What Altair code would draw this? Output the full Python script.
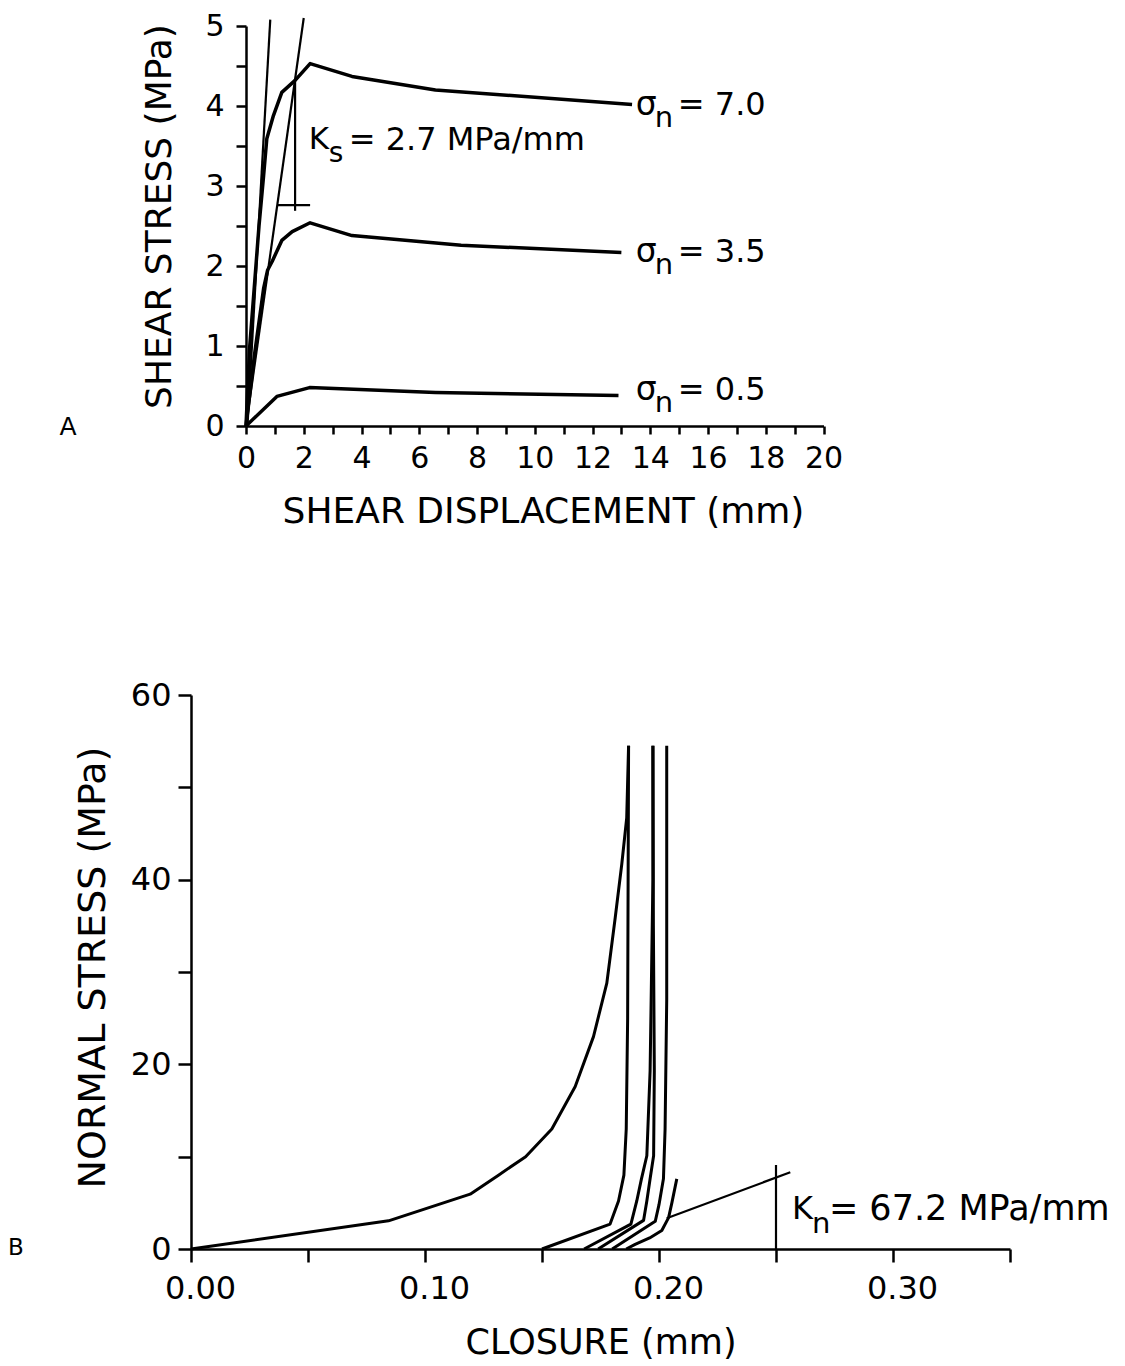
import altair as alt
import pandas as pd

# ---------------- Panel A : shear stress vs shear displacement ----------------
a70_x = [0, 0.12, 0.45, 0.61, 0.72, 0.95, 1.24, 1.70, 2.22, 3.67, 6.56, 13.37]
a70_y = [0, 0.95, 2.5, 3.13, 3.59, 3.88, 4.17, 4.32, 4.53, 4.37, 4.20, 4.02]
a35_x = [0, 0.29, 0.61, 0.75, 0.91, 1.24, 1.60, 2.22, 3.67, 7.45, 13.0]
a35_y = [0, 0.88, 1.72, 1.95, 2.06, 2.32, 2.43, 2.54, 2.38, 2.26, 2.17]
a05_x = [0, 1.07, 2.20, 6.56, 12.9]
a05_y = [0, 0.37, 0.48, 0.42, 0.38]

ks_steep_x = [0.05, 0.84]
ks_steep_y = [0, 5.08]
ks_tan_x = [0, 2.0]
ks_tan_y = [0, 5.1]
ks_vert_x = [1.70, 1.70]
ks_vert_y = [4.33, 2.69]
ks_hor_x = [1.08, 2.22]
ks_hor_y = [2.76, 2.76]

sigma_vals = ["= 7.0", "= 3.5", "= 0.5"]
sigma_x = [13.5, 13.5, 13.5]
sigma_y = [4.01, 2.17, 0.45]

ks_label_x = [2.17]
ks_label_y = [3.57]
panelA_letter_x = [-6.16]
panelA_letter_y = [-0.01]

a_xticks = list(range(0, 21))
a_yticks = [0, 0.5, 1, 1.5, 2, 2.5, 3, 3.5, 4, 4.5, 5]

# ---------------- Panel B : normal stress vs closure ----------------
bA_x = [0, 0.0844, 0.1193, 0.1314, 0.1430, 0.1542, 0.1642, 0.1720, 0.1777, 0.1813, 0.1841, 0.1862, 0.1870]
bA_y = [0, 3.05, 5.94, 8.0, 10.0, 13.0, 17.6, 23.0, 28.8, 35.9, 41.7, 46.7, 54.5]
bB_x = [0.150, 0.1791, 0.1827, 0.1850, 0.1860, 0.1866, 0.1870]
bB_y = [0, 2.7, 5.2, 8.0, 13, 25, 54.5]
bC_x = [0.168, 0.188, 0.1905, 0.1925, 0.1948, 0.1962, 0.1974, 0.1974]
bC_y = [0, 2.7, 5.2, 7.6, 10.1, 19.3, 40, 54.5]
bD_x = [0.174, 0.1934, 0.1948, 0.1962, 0.1977, 0.1980, 0.1976, 0.1974]
bD_y = [0, 3.1, 5.2, 7.6, 10.1, 19.3, 35, 54.5]
bE_x = [0.180, 0.1984, 0.2000, 0.2019, 0.2026, 0.2033, 0.2033]
bE_y = [0, 3.0, 4.8, 7.6, 13, 27, 54.5]
bF_x = [0.186, 0.1898, 0.1960, 0.2012, 0.2041, 0.2055, 0.2076]
bF_y = [0, 0.5, 1.2, 2.0, 3.4, 5.0, 7.6]

kn_line_x = [0.2033, 0.2561]
kn_line_y = [3.33, 8.31]
kn_vert_x = [0.25, 0.25]
kn_vert_y = [0, 9.1]
kn_label_x = [0.2568]
kn_label_y = [4.34]
panelB_letter_x = [-0.0748]
panelB_letter_y = [0.08]

b_xticks = [0, 0.05, 0.10, 0.15, 0.20, 0.25, 0.30, 0.35]
b_yticks = [0, 10, 20, 30, 40, 50, 60]

FONT = "DejaVu Sans"


def lines_df(series):
    rows = []
    for name, (xs, ys) in series.items():
        for i, (x, y) in enumerate(zip(xs, ys)):
            rows.append({"s": name, "o": i, "x": x, "y": y})
    return pd.DataFrame(rows)


# ---------- Panel A ----------
xA = alt.X(
    "x:Q",
    scale=alt.Scale(domain=[0, 20], range=[55, 632.5], nice=False, zero=False),
    axis=alt.Axis(
        values=a_xticks,
        labelExpr="datum.value % 2 == 0 ? format(datum.value, 'd') : ''",
        labelOverlap=False,
        labelFlush=False,
        tickSize=8,
        labelPadding=9,
        labelFontSize=30,
        title="SHEAR DISPLACEMENT (mm)",
        titleFontSize=36,
        titleFontWeight="normal",
        titleX=352,
        titleY=96,
        titleBaseline="alphabetic",
        titleAlign="center",
    ),
)
yA = alt.Y(
    "y:Q",
    scale=alt.Scale(domain=[0, 5], nice=False, zero=False),
    axis=alt.Axis(
        values=a_yticks,
        labelExpr="datum.value % 1 == 0 ? format(datum.value, 'd') : ''",
        labelOverlap=False,
        labelFlush=False,
        offset=-55,
        tickSize=10,
        labelPadding=12,
        labelFontSize=30,
        title="SHEAR  STRESS (MPa)",
        titleFontSize=36,
        titleFontWeight="normal",
        titleAngle=270,
        titleX=-76,
        titleY=190,
        titleBaseline="alphabetic",
        titleAlign="center",
    ),
)

curvesA = alt.Chart(
    lines_df({"7.0": (a70_x, a70_y), "3.5": (a35_x, a35_y), "0.5": (a05_x, a05_y)})
).mark_line(color="black", strokeWidth=3.5, strokeJoin="round").encode(
    x=xA, y=yA, detail="s:N", order="o:Q"
)
constrA = alt.Chart(
    lines_df({"steep": (ks_steep_x, ks_steep_y), "tan": (ks_tan_x, ks_tan_y),
              "vert": (ks_vert_x, ks_vert_y), "hor": (ks_hor_x, ks_hor_y)})
).mark_line(color="black", strokeWidth=2.2).encode(x=xA, y=yA, detail="s:N", order="o:Q")

sig_df = pd.DataFrame({"x": sigma_x, "y": sigma_y, "t": sigma_vals})
sigA = alt.Chart(sig_df).mark_text(align="left", baseline="middle", fontSize=33, color="black").encode(
    x=xA, y=yA, text=alt.value("σ"))
subA = alt.Chart(sig_df).mark_text(align="left", baseline="middle", fontSize=29, dx=19, dy=13, color="black").encode(
    x=xA, y=yA, text=alt.value("n"))
eqA = alt.Chart(sig_df).mark_text(align="left", baseline="middle", fontSize=32, dx=42, color="black").encode(
    x=xA, y=yA, text="t:N")

ks_df = pd.DataFrame({"x": ks_label_x, "y": ks_label_y})
ksK = alt.Chart(ks_df).mark_text(align="left", baseline="middle", fontSize=31, color="black").encode(
    x=xA, y=yA, text=alt.value("K"))
ksS = alt.Chart(ks_df).mark_text(align="left", baseline="middle", fontSize=28, dx=20, dy=14, color="black").encode(
    x=xA, y=yA, text=alt.value("s"))
ksT = alt.Chart(ks_df).mark_text(align="left", baseline="middle", fontSize=32, dx=40, color="black").encode(
    x=xA, y=yA, text=alt.value("= 2.7 MPa/mm"))
letA = alt.Chart(pd.DataFrame({"x": panelA_letter_x, "y": panelA_letter_y})).mark_text(
    align="center", baseline="middle", fontSize=25, color="black").encode(x=xA, y=yA, text=alt.value("A"))

panelA = alt.layer(curvesA, constrA, sigA, subA, eqA, ksK, ksS, ksT, letA).properties(width=633, height=400)

# ---------- Panel B ----------
xB = alt.X(
    "x:Q",
    scale=alt.Scale(domain=[0, 0.35], nice=False, zero=False),
    axis=alt.Axis(
        values=b_xticks,
        labelExpr="round(datum.value * 100) % 10 == 0 ? format(datum.value, '.2f') : ''",
        labelOverlap=False,
        labelFlush=False,
        labelOffset=9,
        tickSize=13,
        labelPadding=11,
        labelFontSize=32,
        title="CLOSURE  (mm)",
        titleFontSize=35,
        titleFontWeight="normal",
        titleX=409.5,
        titleY=104,
        titleBaseline="alphabetic",
        titleAlign="center",
    ),
)
yB = alt.Y(
    "y:Q",
    scale=alt.Scale(domain=[0, 60], nice=False, zero=False),
    axis=alt.Axis(
        values=b_yticks,
        labelExpr="datum.value % 20 == 0 ? format(datum.value, 'd') : ''",
        labelOverlap=False,
        labelFlush=False,
        tickSize=13,
        labelPadding=7,
        labelFontSize=32,
        title="NORMAL  STRESS  (MPa)",
        titleFontSize=38,
        titleFontWeight="normal",
        titleAngle=270,
        titleX=-87,
        titleY=272,
        titleBaseline="alphabetic",
        titleAlign="center",
    ),
)

curvesB = alt.Chart(
    lines_df({"A": (bA_x, bA_y), "B": (bB_x, bB_y), "C": (bC_x, bC_y),
              "D": (bD_x, bD_y), "E": (bE_x, bE_y), "F": (bF_x, bF_y)})
).mark_line(color="black", strokeWidth=3, strokeJoin="round").encode(x=xB, y=yB, detail="s:N", order="o:Q")
constrB = alt.Chart(
    lines_df({"kn": (kn_line_x, kn_line_y), "v": (kn_vert_x, kn_vert_y)})
).mark_line(color="black", strokeWidth=2.2).encode(x=xB, y=yB, detail="s:N", order="o:Q")

kn_df = pd.DataFrame({"x": kn_label_x, "y": kn_label_y})
knK = alt.Chart(kn_df).mark_text(align="left", baseline="middle", fontSize=32, color="black").encode(
    x=xB, y=yB, text=alt.value("K"))
knN = alt.Chart(kn_df).mark_text(align="left", baseline="middle", fontSize=29, dx=20, dy=15, color="black").encode(
    x=xB, y=yB, text=alt.value("n"))
knT = alt.Chart(kn_df).mark_text(align="left", baseline="middle", fontSize=35, dx=37, color="black").encode(
    x=xB, y=yB, text=alt.value("= 67.2 MPa/mm"))
letB = alt.Chart(pd.DataFrame({"x": panelB_letter_x, "y": panelB_letter_y})).mark_text(
    align="center", baseline="middle", fontSize=23, color="black").encode(x=xB, y=yB, text=alt.value("B"))

panelB = alt.layer(curvesB, constrB, knK, knN, knT, letB).properties(width=819, height=554)

chart = alt.vconcat(panelA, panelB, spacing=150).properties(
    padding={"left": 0, "top": 3, "right": 0, "bottom": 0}
).configure(font=FONT).configure_view(stroke=None).configure_axis(
    domainColor="black", domainWidth=2.5, tickColor="black", tickWidth=2.5,
    labelColor="black", titleColor="black", grid=False, labelFont=FONT, titleFont=FONT,
)

chart.save("out.html", embed_options={"renderer": "svg", "actions": False})
